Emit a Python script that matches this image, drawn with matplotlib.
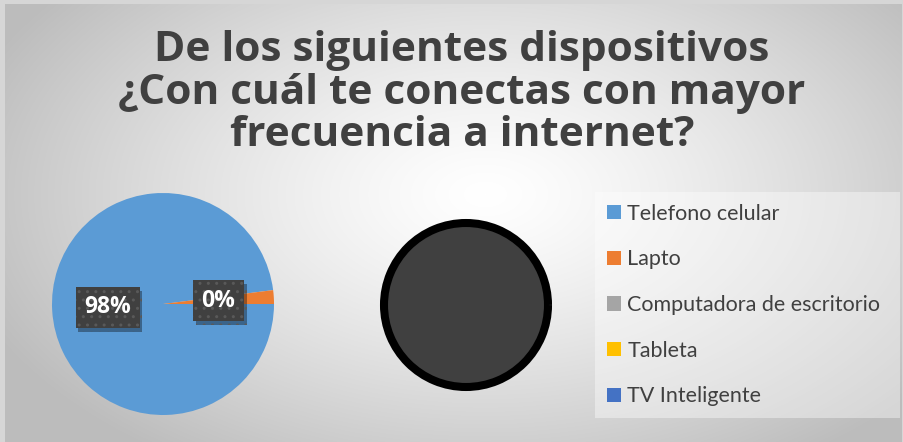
import numpy as np
import matplotlib.pyplot as plt
from matplotlib.patches import Patch
import matplotlib.patheffects as pe

W, H = 904, 442

titulo = "De los siguientes dispositivos\n¿Con cuál te conectas con mayor\nfrecuencia a internet?"
categorias = ['Telefono celular', 'Lapto', 'Computadora de escritorio', 'Tableta', 'TV Inteligente']
colores = ['#5B9BD5', '#ED7D31', '#A5A5A5', '#FFC000', '#4472C4']
# pastel principal: telefono y el resto agrupado
valores_pie1 = [98, 2]
etiquetas_pie1 = ['98%', '0%']
# pastel secundario (sin datos visibles)
valores_pie2 = [1]

fig = plt.figure(figsize=(W / 100, H / 100), dpi=100)
fig.patch.set_facecolor('#d6d6d6')

def px(x, y, w, h):
    # caja en pixeles (origen arriba a la izquierda)
    return [x / W, 1 - (y + h) / H, w / W, h / H]

# fondo con degradado radial
bg = fig.add_axes(px(5, 4, 897, 438), zorder=-10)
yy, xx = np.mgrid[0:438, 0:897]
d = np.sqrt(((xx - 480) / 560.0) ** 2 + ((yy - 190) / 330.0) ** 2)
g = np.clip(1.0 - 0.27 * d ** 1.3, 0.74, 1.0)
bg.imshow(np.dstack([g, g, g]), aspect='auto', interpolation='bilinear')
bg.axis('off')

# titulo
fig.text(462 / W, 1 - 93 / H, titulo, ha='center', va='center', fontsize=30.5,
         fontweight='bold', family='Open Sans', color='#404040', linespacing=1.04)

# pastel principal
ax1 = fig.add_axes(px(52, 193, 222, 222))
wedges, textos = ax1.pie(valores_pie1, colors=colores[:2], startangle=7.2,
                         labels=etiquetas_pie1, labeldistance=0.5,
                         wedgeprops=dict(linewidth=0))
for t in textos:
    t.set_ha('center')
    t.set_va('center')
    t.set_color('white')
    t.set_fontsize(16.5)
    t.set_fontweight('bold')
    t.set_family('Open Sans')
    t.set_bbox(dict(boxstyle='square,pad=0.38', facecolor='#404040',
                    edgecolor='#595959', linewidth=0, hatch='..'))
    t.get_bbox_patch().set_path_effects([
        pe.SimplePatchShadow(offset=(2, -3), shadow_rgbFace='black', alpha=0.35),
        pe.Normal()])
ax1.set_xlim(-1, 1)
ax1.set_ylim(-1, 1)
ax1.set_aspect('equal')

# pastel secundario
ax2 = fig.add_axes(px(376, 215, 180, 180))
ax2.pie(valores_pie2, colors=['#404040'],
        wedgeprops=dict(edgecolor='black', linewidth=5.8), radius=82 / 90)
ax2.set_xlim(-1, 1)
ax2.set_ylim(-1, 1)
ax2.set_aspect('equal')

# leyenda
manejadores = [Patch(facecolor=c, edgecolor='none') for c in colores]
leg = fig.legend(manejadores, categorias, loc='upper left',
                 bbox_to_anchor=(595 / W, 1 - 418 / H, 305 / W, 226 / H),
                 mode='expand', prop=dict(family='Lato', size=15.5),
                 labelcolor='#404040', handlelength=0.65, handleheight=0.65,
                 handletextpad=0.3, labelspacing=1.19, borderpad=0.55,
                 borderaxespad=0, fancybox=False, frameon=True)
leg.get_frame().set_facecolor('white')
leg.get_frame().set_alpha(0.4)
leg.get_frame().set_edgecolor('none')

fig.savefig('out.png', dpi=100, facecolor=fig.get_facecolor())
